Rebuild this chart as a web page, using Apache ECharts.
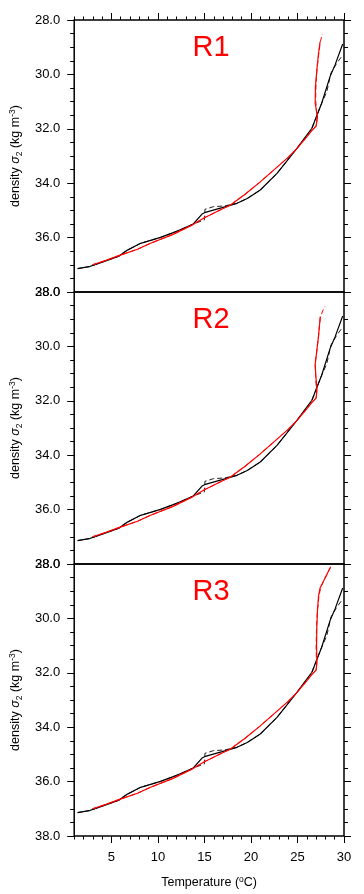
<!DOCTYPE html>
<html><head><meta charset="utf-8">
<script src="https://cdn.jsdelivr.net/npm/echarts@6/dist/echarts.min.js"></script>
<style>html,body{margin:0;padding:0;background:#fff}#c{width:364px;height:894px}</style>
</head><body><div id="c"></div>
<script>
// ---- data ----
const panelNames = ['R1', 'R2', 'R3'];
const xMajorTicks = [5, 10, 15, 20, 25, 30];
const yTicks = [28, 30, 32, 34, 36, 38];

// black solid (reference profile)
const obsT = [1.36, 2.6, 3.86, 5.82, 6.72, 8.14, 10.29, 12.08, 13.8, 14.76, 15.1, 16.9, 18.5, 19.6, 21.0, 22.8, 24.0, 24.94, 26.55, 27.6, 28.5, 29.04, 29.86];
const obsS = [37.14, 37.07, 36.92, 36.68, 36.46, 36.21, 35.99, 35.76, 35.5, 35.13, 35.07, 34.9, 34.74, 34.56, 34.25, 33.64, 33.12, 32.72, 31.98, 31.06, 30.08, 29.65, 28.88];
// black dashed
const obsDT = [1.36, 2.6, 3.86, 5.82, 6.72, 8.14, 10.29, 12.08, 13.8, 15.0, 15.05, 16.0, 17.07, 18.5, 19.6, 21.0, 22.8, 24.0, 24.94, 26.55, 27.6, 28.15, 28.6, 29.2, 29.86];
const obsDS = [37.14, 37.07, 36.92, 36.68, 36.46, 36.21, 35.99, 35.76, 35.5, 35.35, 34.96, 34.86, 34.84, 34.74, 34.56, 34.25, 33.64, 33.12, 32.72, 31.98, 31.06, 30.64, 29.95, 29.6, 29.29];
// red (model), common lower part
const modT = [2.97, 4.3, 5.65, 7.8, 9.2, 11.5, 13.5, 14.9, 16.3, 17.8, 19.4, 21.0, 22.5, 24.0, 25.0, 26.0, 26.5, 27.0];
const modS = [37.0, 36.85, 36.68, 36.43, 36.21, 35.9, 35.57, 35.29, 35.05, 34.8, 34.4, 33.95, 33.5, 33.05, 32.7, 32.3, 32.08, 31.9];
// red upper parts, per panel (solid / dashed)
const r1TopT = [27.15, 26.9, 26.93, 27.08, 27.26, 27.43];
const r1TopS = [31.55, 31.06, 30.45, 29.84, 29.23, 28.8];
const r1DashT = [27.1, 27.05, 26.95, 27.0, 27.1, 27.3, 27.45, 27.68];
const r1DashS = [31.75, 31.4, 30.9, 30.3, 29.8, 29.2, 28.8, 28.51];
const r2TopT = [27.1, 27.0, 26.9, 27.1, 27.26, 27.45];
const r2TopS = [31.6, 31.2, 30.67, 30.1, 29.63, 28.9];
const r2DashT = [27.05, 26.95, 26.9, 27.1, 27.26, 27.45, 27.7, 27.97];
const r2DashS = [31.7, 31.1, 30.6, 30.1, 29.6, 28.95, 28.7, 28.53];
const r3TopT = [27.1, 27.05, 27.08, 27.15, 27.26, 27.43, 28.57];
const r3TopS = [31.6, 31.02, 30.29, 29.7, 29.18, 28.88, 28.1];
const r3DashT = [27.05, 27.0, 27.05, 27.15, 27.3, 27.5, 28.5];
const r3DashS = [31.7, 31.1, 30.3, 29.7, 29.2, 28.85, 28.15];

// ---- build ----
const pairs = (t, s) => t.map((v, i) => [v, s[i]]);
const redSolid = [pairs(modT.concat(r1TopT), modS.concat(r1TopS)), pairs(modT.concat(r2TopT), modS.concat(r2TopS)), pairs(modT.concat(r3TopT), modS.concat(r3TopS))];
const redDash = [pairs(modT.concat(r1DashT), modS.concat(r1DashS)), pairs(modT.concat(r2DashT), modS.concat(r2DashS)), pairs(modT.concat(r3DashT), modS.concat(r3DashS))];

const FONT = '"Liberation Sans", Arial, Helvetica, sans-serif';
const tops = [20, 292, 564];
const grid = tops.map(t => ({left: 73, width: 271, top: t, height: 272, show: true, borderColor: '#000', borderWidth: 1.5, backgroundColor: 'transparent'}));

const xAxis = [];
const yAxis = [];
const series = [];
tops.forEach((t, i) => {
  const isBottom = i === 2;
  // main x axis
  xAxis.push({
    gridIndex: i, type: 'value', min: 1, max: 30,
    position: isBottom ? 'bottom' : 'top',
    axisLine: {show: false},
    splitLine: {show: false},
    axisTick: {show: i !== 1, customValues: xMajorTicks, length: 7, lineStyle: {color: '#000', width: 1}},
    axisLabel: {show: isBottom, customValues: xMajorTicks, margin: 15, color: '#000', fontSize: 13, fontFamily: FONT},
    name: isBottom ? 'Temperature ({sup|o}C)' : '',
    nameLocation: 'middle', nameGap: 39,
    nameTextStyle: {color: '#000', fontSize: 12.5, fontFamily: FONT, lineHeight: 16,
      rich: {sup: {fontSize: 8.5, lineHeight: 8, verticalAlign: 'top', color: '#000', fontFamily: FONT}}}
  });
  // minor x axis
  xAxis.push({
    gridIndex: i, type: 'value', min: 1, max: 30, interval: 1,
    position: isBottom ? 'bottom' : 'top',
    axisLine: {show: false}, splitLine: {show: false},
    axisTick: {show: i !== 1, length: 3.5, lineStyle: {color: '#000', width: 1}},
    axisLabel: {show: false}
  });
  // left y axis
  yAxis.push({
    gridIndex: i, type: 'value', min: 28, max: 38, interval: 2, inverse: true,
    position: 'left',
    axisLine: {show: false}, splitLine: {show: false},
    axisTick: {show: true, length: 7, lineStyle: {color: '#000', width: 1}},
    minorTick: {show: true, splitNumber: 4, length: 4, lineStyle: {color: '#000', width: 1}},
    axisLabel: {show: true, margin: 14, color: '#000', fontSize: 13, fontFamily: FONT, formatter: v => v.toFixed(1)},
    name: 'density {it|σ}{sub|2} (kg m{sup|-3})',
    nameLocation: 'middle', nameRotate: 90, nameGap: 40,
    nameTextStyle: {color: '#000', fontSize: 12.5, fontFamily: FONT, lineHeight: 16,
      rich: {
        it: {fontSize: 12.5, fontStyle: 'italic', fontFamily: FONT, color: '#000', lineHeight: 16},
        sub: {fontSize: 8.5, lineHeight: 8, verticalAlign: 'bottom', color: '#000', fontFamily: FONT},
        sup: {fontSize: 8.5, lineHeight: 8, verticalAlign: 'top', color: '#000', fontFamily: FONT}
      }}
  });
  // right y axis
  yAxis.push({
    gridIndex: i, type: 'value', min: 28, max: 38, interval: 2, inverse: true,
    position: 'right',
    axisLine: {show: false}, splitLine: {show: false},
    axisTick: {show: true, length: 7, lineStyle: {color: '#000', width: 1}},
    minorTick: {show: true, splitNumber: 4, length: 4, lineStyle: {color: '#000', width: 1}},
    axisLabel: {show: false}
  });
  const xi = i * 2, yi = i * 2;
  const base = {type: 'line', xAxisIndex: xi, yAxisIndex: yi, showSymbol: false, symbol: 'none', silent: true, animation: false};
  series.push(Object.assign({}, base, {data: pairs(obsDT, obsDS), lineStyle: {color: '#222', width: 1, type: [5, 3]}}));
  series.push(Object.assign({}, base, {data: pairs(obsT, obsS), lineStyle: {color: '#000', width: 1.2}}));
  series.push(Object.assign({}, base, {data: redDash[i], lineStyle: {color: '#ff0000', width: 1, type: [5, 3]}}));
  series.push(Object.assign({}, base, {data: redSolid[i], lineStyle: {color: '#ff0000', width: 1.2}}));
});

const graphic = panelNames.map((n, i) => ({
  type: 'text', x: 211, y: tops[i] + 28, z: 100,
  style: {text: n, fill: '#ff0000', fontSize: 29, fontFamily: FONT, align: 'center', verticalAlign: 'middle'}
}));

const chart = echarts.init(document.getElementById('c'), null, {renderer: 'canvas'});
chart.setOption({animation: false, backgroundColor: '#fff', grid, xAxis, yAxis, series, graphic});
</script></body></html>
